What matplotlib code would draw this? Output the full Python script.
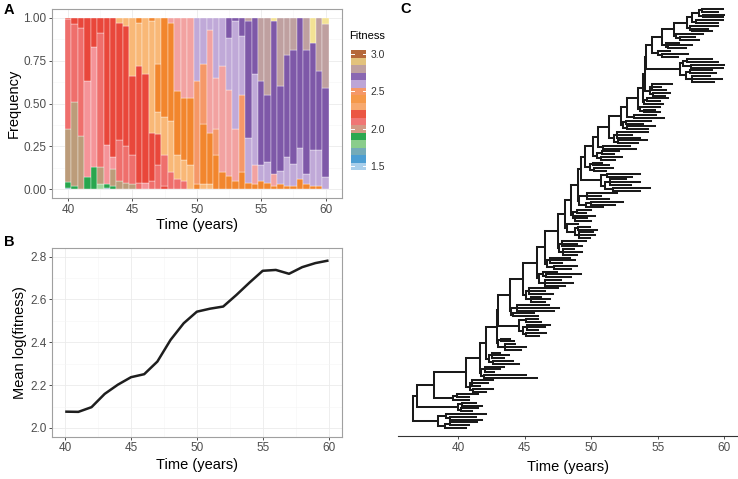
import numpy as np
import matplotlib.pyplot as plt
from matplotlib.colors import LinearSegmentedColormap, Normalize
from matplotlib.collections import LineCollection

plt.rcParams['font.family'] = ['Liberation Sans', 'DejaVu Sans']

# ---- colour scale: fitness anchor -> colour (Paired ramp, as printed) ----
anchor_fit = [1.5, 1.636, 1.70, 1.773, 1.909, 1.98, 2.045, 2.182, 2.318,
              2.455, 2.50, 2.545, 2.591, 2.727, 2.80, 2.864, 3.0]
anchor_col = ['#A9CFEB', '#2B8CCB', '#74ABB8', '#A3D79B', '#25A54C', '#C49C7C',
              '#F5959A', '#E9473B', '#F9B877', '#F2852C', '#F59868', '#F4A29E',
              '#C2ABD9', '#7C56A8', '#BFA0A0', '#F3E394', '#B5683A']
norm = Normalize(1.5, 3.0)
cmap = LinearSegmentedColormap.from_list(
    'fit', [(norm(f), c) for f, c in zip(anchor_fit, anchor_col)])

# fitness levels seen in the bars
TE, LG, G, TN, PK, CO, R = 1.70, 1.773, 1.909, 1.98, 2.045, 2.11, 2.182
LO, O, SO, SA, LP, P, GP, Y = 2.318, 2.455, 2.50, 2.545, 2.591, 2.727, 2.80, 2.864

# ---- panel A: genotype frequencies, bottom to top (fitness, frequency) ----
bar_times = [40.0, 40.5, 41.0, 41.5, 42.0, 42.5, 43.0, 43.5, 44.0, 44.5, 45.0,
             45.5, 46.0, 46.5, 47.0, 47.5, 48.0, 48.5, 49.0, 49.5, 50.0, 50.5,
             51.0, 51.5, 52.0, 52.5, 53.0, 53.5, 54.0, 54.5, 55.0, 55.5, 56.0,
             56.5, 57.0, 57.5, 58.0, 58.5, 59.0, 59.5, 60.0]
bar_stacks = [
    [(TE, .01), (G, .035), (TN, .305), (CO, .64), (R, .01)],
    [(G, .02), (TN, .49), (CO, .45), (R, .04)],
    [(TN, .31), (CO, .63), (R, .06)],
    [(G, .07), (PK, .56), (R, .37)],
    [(G, .13), (PK, .70), (R, .17)],
    [(LG, .03), (TN, .10), (CO, .78), (R, .09)],
    [(TE, .01), (G, .02), (PK, .23), (R, .74)],
    [(G, .02), (TN, .10), (PK, .07), (R, .81)],
    [(TN, .05), (CO, .24), (R, .68), (LO, .03)],
    [(TN, .04), (CO, .21), (R, .70), (LO, .05)],
    [(TN, .03), (CO, .17), (R, .46), (LO, .34)],
    [(CO, .04), (R, .68), (LO, .25), (O, .03)],
    [(PK, .04), (R, .63), (LO, .33)],
    [(CO, .05), (R, .28), (LO, .65), (O, .02)],
    [(CO, .14), (R, .18), (LO, .13), (O, .28), (LO, .27)],
    [(R, .02), (CO, .18), (LO, .22), (O, .58)],
    [(CO, .10), (LO, .30), (O, .57), (SA, .03)],
    [(CO, .06), (LO, .14), (O, .37), (SA, .43)],
    [(CO, .05), (LO, .12), (O, .36), (SA, .47)],
    [(LO, .14), (O, .39), (SA, .47)],
    [(O, .03), (SO, .60), (LP, .37)],
    [(LO, .03), (O, .35), (SO, .35), (LP, .27)],
    [(LO, .03), (O, .30), (SA, .60), (LP, .07)],
    [(O, .20), (SO, .15), (SA, .30), (LP, .35)],
    [(O, .10), (SA, .62), (LP, .28)],
    [(O, .08), (SA, .50), (LP, .30), (P, .12)],
    [(O, .05), (SA, .30), (LP, .63), (P, .02)],
    [(O, .10), (SO, .45), (LP, .34), (P, .11)],
    [(O, .04), (LP, .26), (P, .68), (GP, .02)],
    [(O, .03), (SA, .11), (LP, .53), (P, .33)],
    [(O, .05), (LP, .09), (P, .49), (GP, .37)],
    [(O, .04), (LP, .12), (P, .39), (GP, .45)],
    [(O, .02), (SA, .07), (P, .89), (Y, .02)],
    [(O, .03), (LP, .08), (P, .49), (GP, .40)],
    [(O, .02), (LP, .17), (P, .59), (GP, .22)],
    [(O, .02), (LP, .13), (P, .66), (GP, .19)],
    [(O, .06), (LP, .18), (P, .76)],
    [(O, .03), (LP, .06), (P, .72), (GP, .19)],
    [(O, .02), (LP, .21), (P, .62), (Y, .15)],
    [(O, .02), (LP, .21), (P, .46), (GP, .31)],
    [(LP, .07), (P, .52), (GP, .37), (Y, .04)],
]
legend_ticks = [1.5, 2.0, 2.5, 3.0]

# ---- panel B: mean log fitness ----
years = [40, 41, 42, 43, 44, 45, 46, 47, 48, 49, 50,
         51, 52, 53, 54, 55, 56, 57, 58, 59, 60]
mean_logfit = [2.076, 2.075, 2.097, 2.159, 2.202, 2.237, 2.251, 2.310, 2.411,
               2.489, 2.543, 2.557, 2.567, 2.621, 2.679, 2.734, 2.738, 2.720,
               2.751, 2.770, 2.782]

# ---- panel C: tree as a spine (node times) with side clades in Newick ----
spine_times = [36.6, 36.9, 38.2, 40.6, 41.6, 42.1, 42.9, 43.0, 43.9, 44.9,
               45.9, 46.5, 47.5, 48.0, 48.5, 49.0, 49.2, 49.5, 50.1, 50.5,
               51.3, 52.2, 52.7, 53.5, 53.9, 54.05, 54.1, 54.6, 55.3, 56.2,
               57.2, 57.6]
side_clades = [
    "((:1.6,(:1.4,:2.0):0.4):0.5,((:2.4,:1.9):0.3,:3.0):0.6):1.9",
    "((:0.8,:1.3):0.2,(:1.5,:1.0):0.3):3.1",
    "(:1.2,(:0.9,:1.6):0.3):1.4",
    "((:1.0,:1.5):0.2,(:0.6,:1.2,:1.6):0.1):0.3",
    "((:4.0,:3.2):0.2,(:0.7,:1.1,:1.4):0.3):0.1",
    "((:2.0,:1.5):0.3,(:0.9,:1.3,:0.6):0.2):0.2",
    "((:1.2,:1.6,:0.8):0.5,(:1.0,:0.7):0.2):0.1",
    "(((:1.0,:1.5):0.2,(:0.8,:1.3,:1.7):0.3):0.3,(:1.1,:0.9):0.5):1.6",
    "((:1.9,:1.6):0.1,(:2.8,:3.2,:2.4):0.4):0.1",
    "((:1.0,:1.4,:0.7):0.4,(:1.8,:1.2,:2.2):0.2):0.2",
    "((:1.5,:2.1,:1.2):0.4,((:1.9,:2.6):0.2,:1.0):0.3):0.2",
    "((:1.3,:1.7):0.5,(:0.9,:1.9,:1.5):0.2):0.2",
    "((:1.0,:1.4,:0.8):0.3,(:1.5,:1.1,:1.8):0.2):0.1",
    "(((:0.8,:1.2,:1.0):0.3,(:1.4,:0.9):0.2):0.6,:0.8):0.2",
    "((:1.2,:0.9,:1.5):0.2,(:0.7,:1.1):0.3):0.1",
    "((:1.3,(:1.8,:2.4):0.4):0.5,(:1.6,:1.0,:2.2):0.6):0.1",
    "(((:2.1,:2.8):0.6,(:1.6,:2.3,:1.2):0.4):0.3,(:1.9,:2.5):0.5):1.5",
    "((:0.9,:1.4):0.3,(:1.2,:0.7):0.2):0.4",
    "((:1.1,:1.6):0.3,(:0.9,:1.3):0.4):0.3",
    "(:2.5,:2.0):0.4",
    "((:1.5,:2.2):0.3,(:1.8,:1.2,:2.4):0.2):0.4",
    "((:1.6,:2.1):0.3,(:1.3,:1.9):0.2):0.2",
    "(:2.3,:1.7):0.5",
    "((:1.2,:0.8):0.3,:1.5):0.2",
    "(:1.4,(:1.0,:1.6):0.2):0.1",
    "((:0.9,:1.3):0.2,(:1.1,:0.7,:1.5):0.1):0.4",
    "(((:1.6,:2.2,:1.3):0.5,(:2.0,:1.7):0.3):0.4,((:2.4,:2.5):0.6,(:2.3,:1.9):0.3):0.2):2.6",
    "((:1.2,:2.0):0.3,:0.9):0.4",
    "((:1.3,:1.8):0.2,:1.0):0.3",
    "((:1.4,:1.1):0.3,:2.0):0.2",
    "((:1.5,:1.2):0.2,:2.1):0.2",
    "(:1.6,:2.0):0.3",
]
top_clade = "((:1.5,:1.6):0.3,(:1.2,:1.6):0.2):0.5"


def parse_newick(s):
    pos = 0

    def node():
        nonlocal pos
        n = {'children': [], 'len': 0.0}
        if s[pos] == '(':
            pos += 1
            n['children'].append(node())
            while s[pos] == ',':
                pos += 1
                n['children'].append(node())
            pos += 1
        if pos < len(s) and s[pos] == ':':
            pos += 1
            start = pos
            while pos < len(s) and s[pos] not in ',)':
                pos += 1
            n['len'] = float(s[start:pos])
        return n
    return node()


# nest the spine: each node = (side clade below, rest of tree above)
newick = top_clade
for k in range(len(spine_times) - 1, -1, -1):
    if k < len(spine_times) - 1:
        newick = newick + ":%.3f" % (spine_times[k + 1] - spine_times[k])
    newick = "(" + side_clades[k] + "," + newick + ")"
tree = parse_newick(newick)

tips = [0]
segs = []


def layout(n, t):
    n['t'] = t
    if not n['children']:
        n['y'] = tips[0]
        tips[0] += 1
        return
    for c in n['children']:
        layout(c, t + c['len'])
    ys = [c['y'] for c in n['children']]
    n['y'] = (ys[0] + ys[-1]) / 2
    segs.append([(t, ys[0]), (t, ys[-1])])
    for c in n['children']:
        segs.append([(t, c['y']), (c['t'], c['y'])])


layout(tree, spine_times[0])
n_tips = tips[0]

# ---- figure ----
fig = plt.figure(figsize=(7.38, 4.79), dpi=100)
axA = fig.add_axes([0.0705, 0.5866, 0.3925, 0.3946])
axB = fig.add_axes([0.0705, 0.0883, 0.3925, 0.3933])
axC = fig.add_axes([0.539, 0.0898, 0.4604, 0.906])
axL = fig.add_axes([350.7 / 738, 1 - 170 / 479, 15.3 / 738, 120 / 479])

TICK_FS = 8.5
TITLE_FS = 10.5


def style(ax):
    ax.set_axisbelow(True)
    ax.grid(which='major', color='#EBEBEB', lw=0.6)
    ax.grid(which='minor', color='#F5F5F5', lw=0.4)
    for sp in ax.spines.values():
        sp.set_color('#A0A0A0')
        sp.set_linewidth(0.8)
    ax.tick_params(which='major', length=2.5, width=0.6, color='#333333',
                   labelsize=TICK_FS, labelcolor='#4D4D4D', pad=1.5)
    ax.tick_params(which='minor', length=0)


# A
for t, stack in zip(bar_times, bar_stacks):
    bottom = 0.0
    for f, h in stack:
        axA.bar(t, h, bottom=bottom, width=0.5, color=cmap(norm(f)),
                edgecolor='white', linewidth=0.25)
        bottom += h
axA.set_xlim(38.75, 61.25)
axA.set_ylim(-0.05, 1.05)
axA.set_xticks([40, 45, 50, 55, 60])
axA.set_xticks([42.5, 47.5, 52.5, 57.5], minor=True)
axA.set_yticks([0, 0.25, 0.5, 0.75, 1.0])
axA.set_yticklabels(['0.00', '0.25', '0.50', '0.75', '1.00'])
axA.set_yticks([0.125, 0.375, 0.625, 0.875], minor=True)
style(axA)
axA.set_xlabel('Time (years)', fontsize=TITLE_FS, labelpad=1.5)
axA.set_ylabel('Frequency', fontsize=TITLE_FS, labelpad=2)

# legend colour bar
for k in range(16):
    v = 1.5 + 0.1 * k
    axL.bar(0.5, 0.1, bottom=v - 0.05, width=1, color=cmap(norm(v)), linewidth=0)
for v in legend_ticks:
    axL.plot([0, 0.2], [v, v], color='white', lw=0.7)
    axL.plot([0.8, 1.0], [v, v], color='white', lw=0.7)
axL.set_xlim(0, 1)
axL.set_ylim(1.45, 3.05)
axL.set_xticks([])
axL.set_yticks(legend_ticks)
axL.set_yticklabels(['1.5', '2.0', '2.5', '3.0'])
axL.yaxis.tick_right()
axL.tick_params(length=0, labelsize=7.5, labelcolor='#333333', pad=3)
for sp in axL.spines.values():
    sp.set_visible(False)
fig.text(349 / 738, 1 - 36 / 479, 'Fitness', fontsize=8, ha='left', va='center')

# B
axB.plot(years, mean_logfit, color='#1E1E1E', lw=1.8, solid_capstyle='butt')
axB.set_xlim(39, 61)
axB.set_ylim(1.959, 2.839)
axB.set_xticks([40, 45, 50, 55, 60])
axB.set_xticks([42.5, 47.5, 52.5, 57.5], minor=True)
axB.set_yticks([2.0, 2.2, 2.4, 2.6, 2.8])
axB.set_yticks([2.1, 2.3, 2.5, 2.7], minor=True)
style(axB)
axB.set_xlabel('Time (years)', fontsize=TITLE_FS, labelpad=3)
axB.set_ylabel('Mean log(fitness)', fontsize=TITLE_FS, labelpad=2)

# C
lc = LineCollection(segs, colors='#1A1A1A', linewidths=1.45, capstyle='projecting')
axC.add_collection(lc)
axC.set_xlim(35.45, 61.0)
axC.set_ylim(-0.019 * n_tips, 1.01 * n_tips)
axC.set_xticks([40, 45, 50, 55, 60])
axC.set_yticks([])
for side in ['top', 'right', 'left']:
    axC.spines[side].set_visible(False)
axC.spines['bottom'].set_color('#333333')
axC.spines['bottom'].set_linewidth(0.8)
axC.tick_params(axis='x', length=2.5, width=0.6, color='#333333',
                labelsize=TICK_FS, labelcolor='#4D4D4D', pad=2)
axC.set_xlabel('Time (years)', fontsize=TITLE_FS, labelpad=4)

fig.text(4 / 738, 1 - 10 / 479, 'A', fontsize=10.5, fontweight='bold', va='center')
fig.text(4 / 738, 1 - 242 / 479, 'B', fontsize=10.5, fontweight='bold', va='center')
fig.text(400 / 738, 1 - 9 / 479, 'C', fontsize=10.5, fontweight='bold', va='center')

fig.savefig('out.png', dpi=100)
